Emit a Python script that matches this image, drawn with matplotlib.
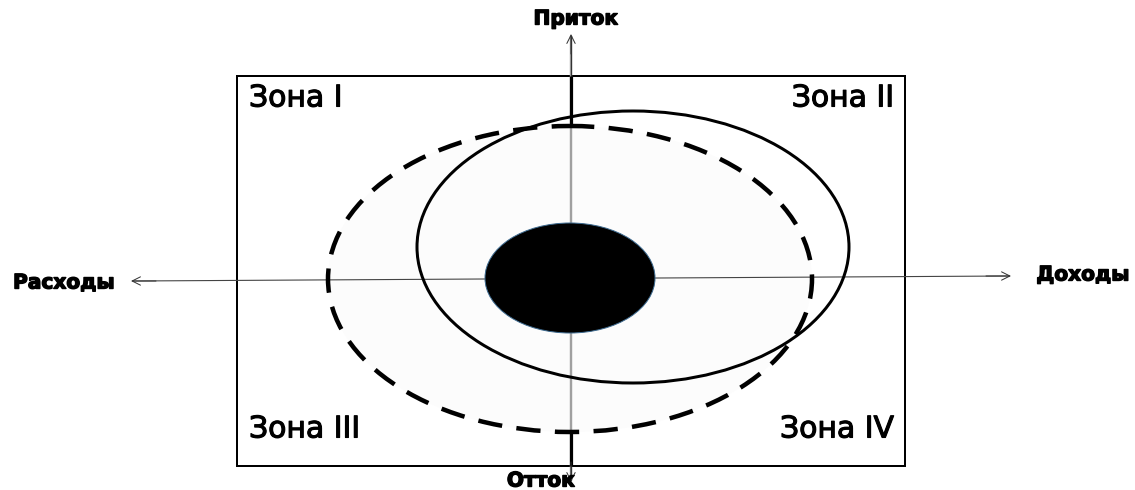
import matplotlib
matplotlib.use("Agg")
import matplotlib.pyplot as plt
import matplotlib.patheffects as pe
from matplotlib.patches import Ellipse, Rectangle

# ---- diagram data (pixel coordinate space of a 1135x490 canvas) ----
W, H = 1135, 490
frame = [237, 76, 905, 466]                      # left, top, right, bottom
outer_dashed = [570, 279, 484, 306]              # cx, cy, width, height
solid_ellipse = [633, 247, 432, 272]
core_ellipse = [570, 278, 170, 110]
v_axis = [571, 34, 482]                          # x, y top tip, y bottom tip
h_axis = [131, 281, 1011, 276]                   # x1, y1, x2, y2
axis_labels = ["Приток", "Отток", "Расходы", "Доходы"]
axis_label_pos = [(576, 19), (541, 481), (64, 283), (1083, 275)]
zone_labels = ["Зона I", "Зона II", "Зона III", "Зона IV"]
zone_label_pos = [(249, 98, "left"), (894, 98, "right"),
                  (249, 429, "left"), (894, 429, "right")]

fig = plt.figure(figsize=(W / 100, H / 100), dpi=100)
ax = fig.add_axes([0, 0, 1, 1])
ax.set_xlim(0, W)
ax.set_ylim(H, 0)
ax.axis("off")

px = 72 / 100  # points per pixel

# frame
l, t, r, b = frame
ax.add_patch(Rectangle((l, t), r - l, b - t, fill=False, ec="black",
                       lw=2 * px, zorder=1))

# very light fill of dashed region
cx, cy, w, h = outer_dashed
ax.add_patch(Ellipse((cx, cy), w, h, fc="#fcfcfc", ec="none", zorder=1.5))

# axes lines
ax.plot([v_axis[0], v_axis[0]], [v_axis[1] + 2, v_axis[2] - 2],
        color="#a0a0a0", lw=2.4 * px, zorder=2, solid_capstyle="butt")
ax.plot([v_axis[0], v_axis[0]], [v_axis[1] + 2, t],
        color="#333333", lw=1.2 * px, zorder=2.1)
ax.plot([v_axis[0], v_axis[0]], [b, v_axis[2] - 2],
        color="#333333", lw=1.2 * px, zorder=2.1)
arrow_kw = dict(arrowstyle="->,head_length=0.6,head_width=0.3",
                color="#333333", lw=1.0 * px, shrinkA=0, shrinkB=0)
ax.annotate("", xy=(v_axis[0], v_axis[1]), xytext=(v_axis[0], v_axis[1] + 20),
            arrowprops=arrow_kw, zorder=3)
ax.annotate("", xy=(v_axis[0], v_axis[2]), xytext=(v_axis[0], v_axis[2] - 20),
            arrowprops=arrow_kw, zorder=3)

x1, y1, x2, y2 = h_axis
ax.plot([x1 + 2, x2 - 2], [y1, y2], color="#444444", lw=1.1 * px, zorder=2)
ax.annotate("", xy=(x1, y1), xytext=(x1 + 25, y1), arrowprops=arrow_kw, zorder=3)
ax.annotate("", xy=(x2, y2), xytext=(x2 - 25, y2), arrowprops=arrow_kw, zorder=3)

# thick black segments of vertical axis inside the frame
ax.plot([v_axis[0], v_axis[0]], [t, cy - h / 2], color="black",
        lw=3.2 * px, zorder=2.5, solid_capstyle="butt")
ax.plot([v_axis[0], v_axis[0]], [cy + h / 2, b], color="black",
        lw=3.2 * px, zorder=2.5, solid_capstyle="butt")

# dashed ellipse
ax.add_patch(Ellipse((cx, cy), w, h, fill=False, ec="black", lw=4.5 * px,
                     linestyle=(0, (5.4, 3.2)), zorder=4))

# solid ellipse
scx, scy, sw, sh = solid_ellipse
ax.add_patch(Ellipse((scx, scy), sw, sh, fill=False, ec="black", lw=3 * px,
                     zorder=4))

# core
ccx, ccy, cw, ch = core_ellipse
ax.add_patch(Ellipse((ccx, ccy), cw, ch, fc="black", ec="#3d6a8f",
                     lw=1.0 * px, zorder=5))

# labels
for txt, (x, y) in zip(axis_labels, axis_label_pos):
    ax.text(x, y, txt, ha="center", va="center", fontsize=14.5,
            fontweight="bold", family="DejaVu Sans", color="black", zorder=6,
            path_effects=[pe.withStroke(linewidth=1.0, foreground="black")])

for txt, (x, y, ha) in zip(zone_labels, zone_label_pos):
    ax.text(x, y, txt, ha=ha, va="center", fontsize=21.5,
            family="DejaVu Sans", color="black", zorder=6,
            path_effects=[pe.withStroke(linewidth=0.8, foreground="black")])

fig.savefig("out.png", dpi=100, facecolor="white")
